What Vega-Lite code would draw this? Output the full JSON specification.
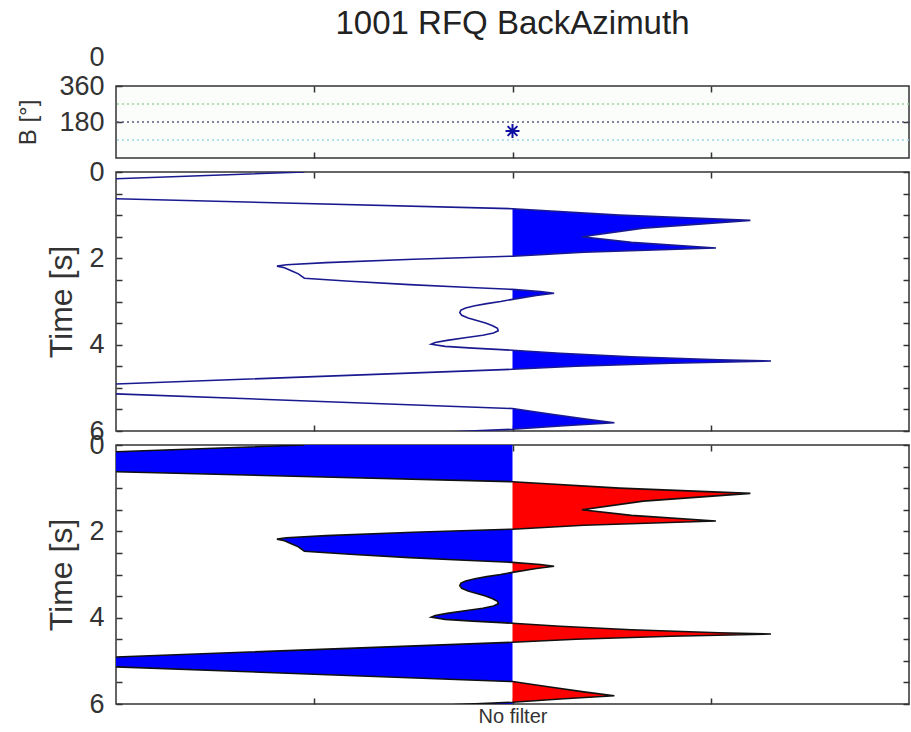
{
  "$schema": "https://vega.github.io/schema/vega-lite/v6.json",
  "padding": {"left": 15, "top": 7, "right": 3, "bottom": 2},
  "background": "white",
  "config": {
    "font": "Liberation Sans",
    "view": {"stroke": "#333333", "strokeWidth": 1.5},
    "axis": {
      "grid": false, "domain": false,
      "labelFont": "Liberation Sans", "labelFontSize": 27, "labelColor": "#333333",
      "titleFont": "Liberation Sans", "titleFontSize": 32, "titleFontWeight": "normal", "titleColor": "#333333",
      "tickColor": "#333333", "tickWidth": 1.5, "tickSize": -6, "labelPadding": 18
    }
  },
  "datasets": {
    "trace": [
      {"t": 0.0, "v": -0.525, "lobe": "A", "sign": "neg"},
      {"t": 0.155, "v": -1.0, "lobe": "A", "sign": "neg"},
      {"t": 0.3, "v": -1.6, "lobe": "A", "sign": "neg"},
      {"t": 0.45, "v": -1.6, "lobe": "A", "sign": "neg"},
      {"t": 0.62, "v": -1.0, "lobe": "A", "sign": "neg"},
      {"t": 0.85, "v": 0.0, "lobe": "A", "sign": "neg"},
      {"t": 0.85, "v": 0.0, "lobe": "B", "sign": "pos"},
      {"t": 1.0, "v": 0.27, "lobe": "B", "sign": "pos"},
      {"t": 1.12, "v": 0.6, "lobe": "B", "sign": "pos"},
      {"t": 1.3, "v": 0.33, "lobe": "B", "sign": "pos"},
      {"t": 1.5, "v": 0.175, "lobe": "B", "sign": "pos"},
      {"t": 1.63, "v": 0.3, "lobe": "B", "sign": "pos"},
      {"t": 1.76, "v": 0.513, "lobe": "B", "sign": "pos"},
      {"t": 1.86, "v": 0.18, "lobe": "B", "sign": "pos"},
      {"t": 1.95, "v": 0.0, "lobe": "B", "sign": "pos"},
      {"t": 1.95, "v": 0.0, "lobe": "C", "sign": "neg"},
      {"t": 2.02, "v": -0.25, "lobe": "C", "sign": "neg"},
      {"t": 2.1, "v": -0.47, "lobe": "C", "sign": "neg"},
      {"t": 2.15, "v": -0.57, "lobe": "C", "sign": "neg"},
      {"t": 2.18, "v": -0.594, "lobe": "C", "sign": "neg"},
      {"t": 2.22, "v": -0.575, "lobe": "C", "sign": "neg"},
      {"t": 2.3, "v": -0.555, "lobe": "C", "sign": "neg"},
      {"t": 2.36, "v": -0.54, "lobe": "C", "sign": "neg"},
      {"t": 2.46, "v": -0.525, "lobe": "C", "sign": "neg"},
      {"t": 2.53, "v": -0.41, "lobe": "C", "sign": "neg"},
      {"t": 2.61, "v": -0.26, "lobe": "C", "sign": "neg"},
      {"t": 2.67, "v": -0.12, "lobe": "C", "sign": "neg"},
      {"t": 2.72, "v": 0.0, "lobe": "C", "sign": "neg"},
      {"t": 2.72, "v": 0.0, "lobe": "D", "sign": "pos"},
      {"t": 2.77, "v": 0.07, "lobe": "D", "sign": "pos"},
      {"t": 2.81, "v": 0.105, "lobe": "D", "sign": "pos"},
      {"t": 2.86, "v": 0.06, "lobe": "D", "sign": "pos"},
      {"t": 2.95, "v": 0.0, "lobe": "D", "sign": "pos"},
      {"t": 2.95, "v": 0.0, "lobe": "E", "sign": "neg"},
      {"t": 3.0, "v": -0.03, "lobe": "E", "sign": "neg"},
      {"t": 3.05, "v": -0.065, "lobe": "E", "sign": "neg"},
      {"t": 3.1, "v": -0.095, "lobe": "E", "sign": "neg"},
      {"t": 3.15, "v": -0.118, "lobe": "E", "sign": "neg"},
      {"t": 3.2, "v": -0.13, "lobe": "E", "sign": "neg"},
      {"t": 3.26, "v": -0.133, "lobe": "E", "sign": "neg"},
      {"t": 3.32, "v": -0.128, "lobe": "E", "sign": "neg"},
      {"t": 3.38, "v": -0.112, "lobe": "E", "sign": "neg"},
      {"t": 3.44, "v": -0.09, "lobe": "E", "sign": "neg"},
      {"t": 3.5, "v": -0.068, "lobe": "E", "sign": "neg"},
      {"t": 3.56, "v": -0.05, "lobe": "E", "sign": "neg"},
      {"t": 3.62, "v": -0.038, "lobe": "E", "sign": "neg"},
      {"t": 3.68, "v": -0.036, "lobe": "E", "sign": "neg"},
      {"t": 3.73, "v": -0.048, "lobe": "E", "sign": "neg"},
      {"t": 3.78, "v": -0.075, "lobe": "E", "sign": "neg"},
      {"t": 3.84, "v": -0.12, "lobe": "E", "sign": "neg"},
      {"t": 3.9, "v": -0.165, "lobe": "E", "sign": "neg"},
      {"t": 3.95, "v": -0.195, "lobe": "E", "sign": "neg"},
      {"t": 3.99, "v": -0.205, "lobe": "E", "sign": "neg"},
      {"t": 4.04, "v": -0.17, "lobe": "E", "sign": "neg"},
      {"t": 4.08, "v": -0.1, "lobe": "E", "sign": "neg"},
      {"t": 4.11, "v": -0.04, "lobe": "E", "sign": "neg"},
      {"t": 4.13, "v": 0.0, "lobe": "E", "sign": "neg"},
      {"t": 4.13, "v": 0.0, "lobe": "F", "sign": "pos"},
      {"t": 4.2, "v": 0.12, "lobe": "F", "sign": "pos"},
      {"t": 4.28, "v": 0.3, "lobe": "F", "sign": "pos"},
      {"t": 4.35, "v": 0.52, "lobe": "F", "sign": "pos"},
      {"t": 4.38, "v": 0.652, "lobe": "F", "sign": "pos"},
      {"t": 4.43, "v": 0.4, "lobe": "F", "sign": "pos"},
      {"t": 4.5, "v": 0.16, "lobe": "F", "sign": "pos"},
      {"t": 4.57, "v": 0.0, "lobe": "F", "sign": "pos"},
      {"t": 4.57, "v": 0.0, "lobe": "G", "sign": "neg"},
      {"t": 4.74, "v": -0.5, "lobe": "G", "sign": "neg"},
      {"t": 4.91, "v": -1.0, "lobe": "G", "sign": "neg"},
      {"t": 5.02, "v": -1.25, "lobe": "G", "sign": "neg"},
      {"t": 5.14, "v": -1.0, "lobe": "G", "sign": "neg"},
      {"t": 5.31, "v": -0.5, "lobe": "G", "sign": "neg"},
      {"t": 5.48, "v": 0.0, "lobe": "G", "sign": "neg"},
      {"t": 5.48, "v": 0.0, "lobe": "H", "sign": "pos"},
      {"t": 5.6, "v": 0.09, "lobe": "H", "sign": "pos"},
      {"t": 5.72, "v": 0.18, "lobe": "H", "sign": "pos"},
      {"t": 5.81, "v": 0.257, "lobe": "H", "sign": "pos"},
      {"t": 5.88, "v": 0.13, "lobe": "H", "sign": "pos"},
      {"t": 5.96, "v": 0.0, "lobe": "H", "sign": "pos"},
      {"t": 5.96, "v": 0.0, "lobe": "I", "sign": "neg"},
      {"t": 6.05, "v": -0.235, "lobe": "I", "sign": "neg"}
    ],
    "baz": [{"x": 0, "baz": 135}],
    "guides": [
      {"baz": 270, "kind": "upper"},
      {"baz": 180, "kind": "mid"},
      {"baz": 90, "kind": "lower"}
    ]
  },
  "bounds": "flush",
  "spacing": 14,
  "resolve": {"scale": {"color": "independent"}},
  "vconcat": [
    {
      "width": 793, "height": 72,
      "title": {"text": "1001 RFQ BackAzimuth", "fontSize": 33, "fontWeight": "normal", "color": "#222222", "anchor": "middle", "frame": "group", "offset": 2},
      "view": {"fill": "#fbfdfb"},
      "layer": [
        {
          "data": {"name": "guides"},
          "mark": {"type": "rule", "strokeDash": [2, 3], "strokeWidth": 1.5},
          "encoding": {
            "y": {"field": "baz", "type": "quantitative", "scale": {"domain": [0, 360], "nice": false},
                  "axis": {"orient": "left", "values": [180, 360], "title": "B [°]", "titleFontSize": 24, "titleAngle": -90, "titleX": -100, "titleY": 36, "titleBaseline": "top", "titleAlign": "center"}},
            "color": {"field": "kind", "type": "nominal", "legend": null,
                      "scale": {"domain": ["upper", "mid", "lower"], "range": ["#9fd39f", "#5a5a80", "#9dd6e6"]}}
          }
        },
        {
          "data": {"name": "baz"},
          "mark": {"type": "point", "shape": "M0,-1L0,1M-1,0L1,0M-0.7,-0.7L0.7,0.7M-0.7,0.7L0.7,-0.7", "filled": false, "size": 196, "strokeWidth": 2, "color": "#1010a0", "opacity": 1},
          "encoding": {
            "x": {"field": "x", "type": "quantitative", "scale": {"domain": [-1, 1], "nice": false},
                  "axis": {"orient": "bottom", "values": [-0.5, 0, 0.5], "labels": false, "title": null}},
            "y": {"field": "baz", "type": "quantitative", "scale": {"domain": [0, 360], "nice": false},
                  "axis": {"orient": "right", "values": [180], "labels": false, "title": null}}
          }
        },
        {
          "data": {"name": "baz"},
          "mark": {"type": "point", "opacity": 0},
          "encoding": {
            "x": {"field": "x", "type": "quantitative", "scale": {"domain": [-1, 1], "nice": false},
                  "axis": {"orient": "top", "values": [-0.5, 0, 0.5], "labels": false, "title": "0", "titleFontSize": 27, "titleAngle": 0, "titleX": -12, "titleY": -21, "titleAlign": "right", "titleBaseline": "alphabetic"}}
          }
        }
      ],
      "resolve": {"axis": {"x": "independent", "y": "independent"}}
    },
    {
      "width": 793, "height": 259,
      "layer": [
        {
          "data": {"name": "trace"},
          "transform": [{"filter": {"field": "sign", "equal": "pos"}}],
          "mark": {"type": "area", "orient": "horizontal", "color": "#0000ff", "clip": true},
          "encoding": {
            "y": {"field": "t", "type": "quantitative", "scale": {"domain": [0, 6], "reverse": true, "nice": false},
                  "axis": {"orient": "left", "values": [0, 0.5, 1, 1.5, 2, 2.5, 3, 3.5, 4, 4.5, 5, 5.5, 6], "format": ".0f", "labelExpr": "datum.value % 2 == 0 ? datum.label : ''", "title": "Time [s]", "titlePadding": 10}},
            "x": {"field": "v", "type": "quantitative", "stack": null, "scale": {"domain": [-1, 1], "nice": false},
                  "axis": {"orient": "bottom", "values": [-0.5, 0, 0.5], "labels": false, "title": null}},
            "detail": {"field": "lobe"}
          }
        },
        {
          "mark": {"type": "rule", "color": "#444444", "strokeWidth": 1.5},
          "encoding": {"x": {"datum": 0, "type": "quantitative", "scale": {"domain": [-1, 1], "nice": false}, "axis": {"orient": "top", "values": [-0.5, 0, 0.5], "labels": false, "title": null}}}
        },
        {
          "data": {"name": "trace"},
          "mark": {"type": "line", "color": "#1a1a90", "strokeWidth": 1.6, "clip": true},
          "encoding": {
            "y": {"field": "t", "type": "quantitative", "scale": {"domain": [0, 6], "reverse": true, "nice": false},
                  "axis": {"orient": "right", "values": [0, 0.5, 1, 1.5, 2, 2.5, 3, 3.5, 4, 4.5, 5, 5.5, 6], "labels": false, "title": null}},
            "x": {"field": "v", "type": "quantitative", "scale": {"domain": [-1, 1], "nice": false}, "axis": null},
            "order": {"field": "t"}
          }
        }
      ],
      "resolve": {"axis": {"x": "independent", "y": "independent"}}
    },
    {
      "width": 793, "height": 259,
      "layer": [
        {
          "data": {"name": "trace"},
          "mark": {"type": "area", "orient": "horizontal", "clip": true},
          "encoding": {
            "y": {"field": "t", "type": "quantitative", "scale": {"domain": [0, 6], "reverse": true, "nice": false},
                  "axis": {"orient": "left", "values": [0, 0.5, 1, 1.5, 2, 2.5, 3, 3.5, 4, 4.5, 5, 5.5, 6], "format": ".0f", "labelExpr": "datum.value % 2 == 0 ? datum.label : ''", "title": "Time [s]", "titlePadding": 10}},
            "x": {"field": "v", "type": "quantitative", "stack": null, "scale": {"domain": [-1, 1], "nice": false},
                  "axis": {"orient": "bottom", "values": [-0.5, 0, 0.5], "labels": false, "title": "No filter", "titleFontSize": 20, "titlePadding": 2}},
            "color": {"field": "sign", "type": "nominal", "legend": null, "scale": {"domain": ["neg", "pos"], "range": ["#0000ff", "#ff0000"]}},
            "detail": {"field": "lobe"}
          }
        },
        {
          "data": {"name": "trace"},
          "mark": {"type": "line", "color": "#111111", "strokeWidth": 1.6, "clip": true},
          "encoding": {
            "y": {"field": "t", "type": "quantitative", "scale": {"domain": [0, 6], "reverse": true, "nice": false},
                  "axis": {"orient": "right", "values": [0, 0.5, 1, 1.5, 2, 2.5, 3, 3.5, 4, 4.5, 5, 5.5, 6], "labels": false, "title": null}},
            "x": {"field": "v", "type": "quantitative", "scale": {"domain": [-1, 1], "nice": false},
                  "axis": {"orient": "top", "values": [-0.5, 0, 0.5], "labels": false, "title": null}},
            "order": {"field": "t"}
          }
        }
      ],
      "resolve": {"axis": {"x": "independent", "y": "independent"}}
    }
  ]
}
